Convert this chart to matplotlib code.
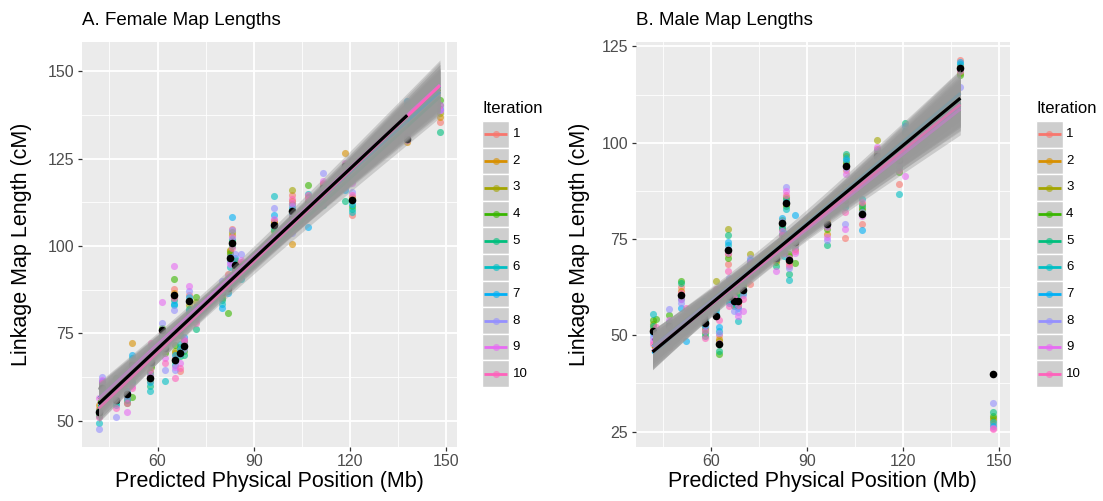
import numpy as np
import matplotlib
matplotlib.use("Agg")
import matplotlib.pyplot as plt
from matplotlib.patches import Rectangle

plt.rcParams['font.family'] = ['Liberation Sans', 'DejaVu Sans']

W, H, DPI = 1103, 501, 100

# ---------------------------------------------------------------- data
iterations = [str(i) for i in range(1, 11)]
iteration_colors = ["#F8766D", "#D89000", "#A3A500", "#39B600", "#00BF7D",
                    "#00BFC4", "#00B0F6", "#9590FF", "#E76BF3", "#FF62BC"]

# predicted physical position of each chromosome (Mb)
position_mb = [41.6, 42.7, 46.9, 50.5, 52.0, 57.7, 57.9, 61.3, 62.4, 65.2,
               65.4, 67.1, 68.3, 69.8, 72.0, 80.2, 82.0, 82.6, 83.2, 84.1,
               86.1, 96.2, 101.8, 102.0, 107.0, 111.7, 118.5, 120.5, 137.8, 148.0]

# reference (true) map lengths, cM
female_true = [52.4, 59.4, 56.1, 57.6, 65.9, 62.3, 66.7, 76.0, 70.8, 86.1,
               67.3, 69.5, 71.5, 84.2, 80.7, 86.8, 88.0, 96.7, 101.0, 94.6,
               93.9, 105.9, 110.0, 107.8, 112.1, 116.7, 122.8, 113.3, 130.7, np.nan]
male_true = [51.0, 49.1, 52.5, 60.5, 52.5, 54.5, 53.1, 55.1, 47.8, 72.2,
             60.2, 59.0, 58.9, 61.8, 66.0, 70.2, 79.2, 75.1, 84.4, 69.5,
             74.2, 79.0, 85.1, 93.9, 81.6, 96.5, 95.6, 98.5, 119.5, 40.0]

# map lengths per chromosome (rows) for iterations 1..10 (columns), cM
female_iterations = [
    [53.5, 54.5, 53.0, 52.0, 51.5, 49.5, 52.8, 47.8, 56.6, 51.0],
    [61.0, 59.5, 60.0, 58.5, 59.0, 60.5, 61.5, 62.5, 61.8, 60.8],
    [57.0, 56.0, 58.0, 62.3, 55.2, 54.5, 59.4, 51.2, 56.5, 53.8],
    [58.0, 57.0, 56.5, 55.2, 56.0, 57.5, 58.5, 56.5, 52.6, 55.0],
    [64.0, 72.4, 66.5, 56.8, 61.0, 68.0, 68.9, 63.5, 60.0, 59.5],
    [62.0, 61.5, 63.0, 64.0, 60.0, 58.5, 61.0, 63.5, 62.5, 64.5],
    [70.0, 66.0, 67.5, 65.5, 68.0, 66.5, 69.0, 70.5, 71.5, 72.4],
    [74.0, 73.0, 75.0, 76.5, 72.5, 74.5, 73.5, 78.0, 84.0, 75.5],
    [70.0, 72.0, 71.5, 69.5, 73.0, 61.3, 74.6, 64.6, 68.0, 66.5],
    [87.6, 86.5, 85.5, 90.6, 84.5, 83.0, 83.5, 81.6, 94.4, 85.0],
    [68.0, 69.5, 70.0, 71.7, 67.0, 66.0, 68.9, 64.6, 65.5, 62.3],
    [64.2, 70.0, 71.0, 74.6, 68.5, 72.0, 70.5, 69.0, 66.5, 65.0],
    [72.0, 73.0, 71.0, 70.0, 68.8, 72.5, 74.0, 70.5, 73.5, 72.8],
    [86.0, 84.5, 83.0, 80.5, 82.1, 81.5, 85.5, 87.2, 88.7, 78.0],
    [82.0, 81.0, 84.0, 85.4, 76.4, 80.0, 82.5, 79.5, 79.0, 78.1],
    [88.0, 87.0, 86.0, 85.0, 84.5, 83.5, 82.3, 90.1, 88.5, 87.5],
    [92.0, 89.5, 87.0, 80.9, 88.5, 90.0, 86.5, 89.0, 91.0, 88.0],
    [97.5, 98.5, 99.0, 98.0, 96.0, 93.9, 97.0, 95.5, 95.0, 96.5],
    [105.0, 103.1, 104.0, 101.5, 100.0, 102.0, 108.3, 104.5, 102.5, 99.5],
    [95.5, 94.0, 96.0, 93.5, 95.0, 92.5, 96.5, 97.7, 94.5, 93.0],
    [94.5, 95.0, 93.0, 94.0, 92.0, 90.6, 92.5, 97.7, 96.0, 95.5],
    [107.5, 107.0, 106.5, 104.3, 105.0, 114.2, 108.8, 110.9, 107.8, 106.0],
    [114.6, 113.0, 116.1, 112.0, 111.0, 110.5, 109.5, 111.5, 112.3, 113.5],
    [106.5, 100.7, 108.0, 109.0, 107.0, 105.5, 106.0, 103.6, 108.5, 107.5],
    [113.0, 114.0, 112.5, 117.5, 112.0, 115.0, 105.5, 111.0, 113.5, 114.5],
    [118.0, 117.5, 116.0, 117.0, 111.6, 116.5, 115.5, 121.0, 118.5, 117.8],
    [123.5, 126.5, 122.0, 118.0, 112.8, 120.0, 116.0, 117.0, 123.8, 121.5],
    [109.0, 113.5, 114.0, 111.4, 110.5, 109.7, 112.0, 115.5, 118.0, 114.5],
    [131.7, 129.8, 131.0, 130.5, 140.2, 134.8, 141.5, 132.0, 131.2, 130.2],
    [135.6, 137.0, 138.0, 141.8, 132.6, 140.2, 139.2, 139.0, 138.8, 140.3],
]
male_iterations = [
    [52.0, 51.5, 53.0, 53.9, 52.5, 55.6, 50.5, 49.5, 48.5, 47.7],
    [49.5, 50.0, 48.5, 54.3, 49.0, 51.0, 48.0, 50.5, 49.8, 52.2],
    [46.9, 51.0, 52.0, 55.2, 53.5, 52.5, 50.0, 56.9, 54.0, 48.5],
    [62.5, 61.5, 60.0, 64.2, 63.5, 59.5, 57.2, 58.5, 59.4, 61.0],
    [52.0, 55.0, 54.0, 53.5, 51.5, 53.0, 48.5, 51.0, 52.8, 57.2],
    [55.0, 56.0, 54.0, 53.0, 55.5, 59.0, 57.5, 56.5, 54.5, 53.5],
    [52.0, 53.5, 51.5, 50.5, 49.8, 54.0, 52.5, 53.0, 51.0, 49.2],
    [58.5, 60.0, 64.2, 57.0, 59.5, 56.5, 55.5, 57.5, 61.5, 62.0],
    [50.0, 49.0, 48.5, 45.2, 46.0, 51.0, 52.2, 50.5, 48.0, 53.9],
    [68.6, 71.0, 77.7, 70.0, 76.0, 73.5, 74.2, 72.5, 71.5, 66.8],
    [60.0, 62.5, 61.0, 63.0, 59.0, 61.5, 58.5, 65.0, 63.5, 57.6],
    [58.0, 60.5, 59.5, 61.5, 57.5, 58.5, 62.0, 56.3, 60.0, 59.5],
    [57.5, 58.5, 59.0, 61.0, 60.0, 53.8, 57.0, 56.0, 55.0, 58.0],
    [63.5, 62.5, 66.5, 63.0, 61.0, 64.2, 62.0, 60.5, 56.4, 59.5],
    [63.4, 67.5, 71.2, 66.0, 68.6, 69.5, 67.0, 70.0, 69.0, 65.5],
    [70.5, 69.0, 71.2, 69.5, 68.0, 71.5, 70.0, 72.5, 66.8, 70.8],
    [78.5, 80.0, 79.0, 77.5, 76.4, 78.1, 80.5, 79.5, 77.0, 76.0],
    [74.0, 76.0, 75.5, 73.5, 72.0, 70.5, 76.5, 74.5, 73.0, 71.5],
    [85.0, 84.0, 86.0, 83.5, 85.5, 82.8, 84.5, 88.5, 87.5, 86.5],
    [68.0, 69.0, 70.5, 71.0, 66.0, 64.4, 69.5, 67.5, 70.0, 68.5],
    [75.0, 73.5, 72.5, 68.8, 74.5, 76.0, 81.2, 73.0, 71.5, 72.0],
    [80.0, 76.2, 79.5, 77.5, 73.4, 80.9, 78.5, 74.7, 75.5, 78.0],
    [75.3, 84.0, 86.0, 88.5, 85.5, 83.3, 84.5, 79.0, 77.7, 82.0],
    [93.0, 96.5, 95.0, 94.5, 97.2, 96.0, 95.5, 93.5, 92.0, 94.0],
    [78.8, 83.0, 84.0, 82.5, 83.5, 85.5, 77.4, 82.0, 81.0, 84.5],
    [97.5, 98.5, 100.7, 97.0, 95.5, 96.0, 92.4, 98.0, 99.0, 96.8],
    [89.2, 96.0, 97.0, 92.5, 93.8, 86.6, 95.0, 96.5, 94.5, 93.0],
    [99.0, 100.0, 101.5, 102.5, 105.0, 103.0, 104.3, 97.5, 91.4, 95.5],
    [121.5, 120.0, 118.0, 117.6, 119.0, 120.5, 121.0, 114.4, 119.5, 118.5],
    [27.0, 28.0, 28.5, 29.0, 30.2, 27.5, 26.5, 32.4, 26.0, 25.8],
]
# the last chromosome is left out of the male regression fits
male_fit_max_mb = 140.0

x_ticks = [60, 90, 120, 150]
female_y_ticks = [50, 75, 100, 125, 150]
male_y_ticks = [25, 50, 75, 100, 125]


# ---------------------------------------------------------------- helpers
def t_quantile(df, z=1.959963984540054):
    """Upper 97.5% Student-t quantile (Cornish-Fisher expansion)."""
    g1 = (z**3 + z) / 4
    g2 = (5 * z**5 + 16 * z**3 + 3 * z) / 96
    g3 = (3 * z**7 + 19 * z**5 + 17 * z**3 - 15 * z) / 384
    g4 = (79 * z**9 + 776 * z**7 + 1482 * z**5 - 1920 * z**3 - 945 * z) / 92160
    return z + g1 / df + g2 / df**2 + g3 / df**3 + g4 / df**4


def lm_band(x, y, xmax=None, n_grid=80):
    x = np.asarray(x, float)
    y = np.asarray(y, float)
    ok = ~np.isnan(y)
    if xmax is not None:
        ok &= x <= xmax
    x, y = x[ok], y[ok]
    n = len(x)
    slope, intercept = np.polyfit(x, y, 1)
    resid = y - (intercept + slope * x)
    s = np.sqrt(np.sum(resid**2) / (n - 2))
    xbar = x.mean()
    sxx = np.sum((x - xbar) ** 2)
    xs = np.linspace(x.min(), x.max(), n_grid)
    fit = intercept + slope * xs
    half = t_quantile(n - 2) * s * np.sqrt(1 / n + (xs - xbar) ** 2 / sxx)
    return xs, fit, fit - half, fit + half


def px_axes(fig, left, top, right, bottom):
    return fig.add_axes([left / W, 1 - bottom / H, (right - left) / W, (bottom - top) / H])


fig = plt.figure(figsize=(W / DPI, H / DPI), dpi=DPI)
fig.patch.set_facecolor("white")

# overlay in pixel coordinates for titles and legends
ov = fig.add_axes([0, 0, 1, 1], zorder=10)
ov.set_xlim(0, W)
ov.set_ylim(H, 0)
ov.axis("off")
ov.patch.set_alpha(0)


def draw_panel(ax, true_vals, iter_rows, y_ticks, fit_xmax):
    x = np.asarray(position_mb, float)
    it = np.asarray(iter_rows, float)
    ax.set_facecolor("#EBEBEB")
    for sp in ax.spines.values():
        sp.set_visible(False)

    all_y = [it.ravel(), np.asarray(true_vals, float)]
    z = 3
    for k in range(len(iterations)):
        ax.scatter(x, it[:, k], s=26, color=iteration_colors[k], alpha=0.6,
                   linewidths=0, zorder=z)
    z += 1
    ax.scatter(x, true_vals, s=30, color="black", linewidths=0, zorder=z)
    z += 1
    for k in range(len(iterations)):
        xs, fit, lo, hi = lm_band(x, it[:, k], fit_xmax)
        ax.fill_between(xs, lo, hi, color="#999999", alpha=0.4, linewidth=0, zorder=z)
        ax.plot(xs, fit, color=iteration_colors[k], lw=2.0, zorder=z + 0.5,
                solid_capstyle="butt")
        all_y += [lo, hi]
        z += 1
    xs, fit, lo, hi = lm_band(x, true_vals, fit_xmax)
    ax.fill_between(xs, lo, hi, color="#999999", alpha=0.4, linewidth=0, zorder=z)
    ax.plot(xs, fit, color="black", lw=2.3, zorder=z + 0.5, solid_capstyle="butt")
    all_y += [lo, hi]

    allv = np.concatenate(all_y)
    allv = allv[~np.isnan(allv)]
    ymin, ymax = allv.min(), allv.max()
    ypad = 0.05 * (ymax - ymin)
    xpad = 0.05 * (x.max() - x.min())
    ax.set_xlim(x.min() - xpad, x.max() + xpad)

    ax.set_xticks(x_ticks)
    ax.set_xticks([t - 15 for t in x_ticks], minor=True)
    ax.set_yticks(y_ticks)
    ax.set_yticks([t - 12.5 for t in y_ticks] + [y_ticks[-1] + 12.5], minor=True)
    ax.set_ylim(ymin - ypad, ymax + ypad)
    ax.grid(which="major", color="white", lw=1.3, zorder=0)
    ax.grid(which="minor", color="white", lw=0.6, zorder=0)
    ax.set_axisbelow(True)
    ax.tick_params(which="major", length=3.2, width=0.9, color="#333333",
                   labelsize=11.5, labelcolor="#4D4D4D", pad=2)
    ax.tick_params(which="minor", length=0)


def draw_legend(x0, label_x):
    ov.text(x0, 108, "Iteration", fontsize=12, color="black", ha="left", va="center")
    key_top, key_h, key_w = 121.0, 26.6, 26.7
    for i, (lab, col) in enumerate(zip(iterations, iteration_colors)):
        y0 = key_top + i * key_h
        ov.add_patch(Rectangle((x0, y0), key_w, key_h, facecolor="#F2F2F2",
                               edgecolor="none"))
        ov.add_patch(Rectangle((x0, y0), key_w, key_h, facecolor="#999999",
                               alpha=0.4, edgecolor="none"))
        ov.add_patch(Rectangle((x0, y0), key_w, key_h, facecolor="none",
                               edgecolor="white", lw=1.0))
        yc = y0 + key_h / 2
        ov.plot([x0 + 2, x0 + key_w - 2], [yc, yc], color=col, lw=2.0,
                solid_capstyle="butt")
        ov.scatter([x0 + key_w / 2], [yc], s=26, color=col, alpha=0.6, linewidths=0)
        ov.text(label_x, yc, lab, fontsize=9.5, color="black", ha="left", va="center")


# ---------------------------------------------------------------- panels
panels = [
    ("A. Female Map Lengths", female_true, female_iterations, female_y_ticks,
     None, (81.5, 41.5, 457.0, 447.0), 22, 482.3, 512.7),
    ("B. Male Map Lengths", male_true, male_iterations, male_y_ticks,
     male_fit_max_mb, (635.5, 41.5, 1010.0, 447.0), 580, 1036.0, 1066.0),
]

for title, tv, rows, yt, fmax, (l, t, r, b), ylab_x, leg_x, lab_x in panels:
    ax = px_axes(fig, l, t, r, b)
    draw_panel(ax, np.asarray(tv, float), rows, yt, fmax)
    ov.text(l + 1, 20, title, fontsize=13.5, color="black", ha="left", va="center")
    ov.text(ylab_x, (t + b) / 2, "Linkage Map Length (cM)", fontsize=15.5,
            rotation=90, ha="center", va="center")
    ov.text((l + r) / 2, 482, "Predicted Physical Position (Mb)", fontsize=15.5,
            ha="center", va="center")
    draw_legend(leg_x, lab_x)

fig.savefig("out.png", dpi=DPI)
